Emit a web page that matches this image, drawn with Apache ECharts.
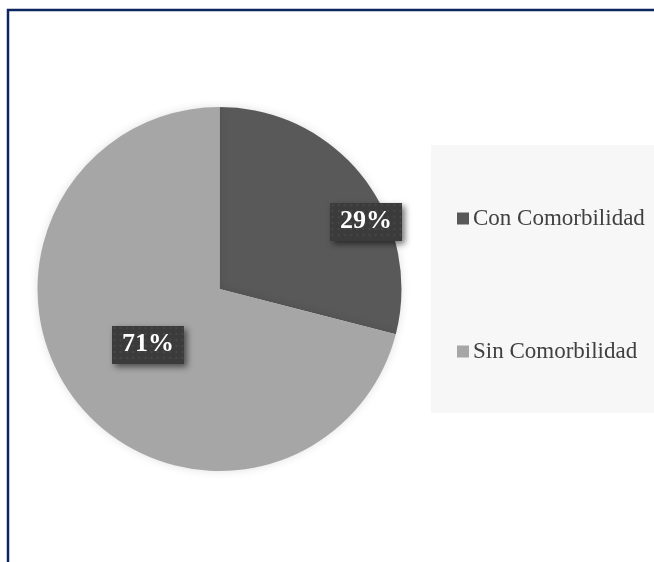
<!DOCTYPE html>
<html>
<head>
<meta charset="utf-8">
<script src="https://cdn.jsdelivr.net/npm/echarts@6/dist/echarts.min.js"></script>
<style>
  html, body { margin: 0; padding: 0; background: #ffffff; }
  #chart { width: 654px; height: 562px; }
</style>
</head>
<body>
<div id="chart"></div>
<script>
// Patients grouped by presence of comorbidity (percent)
const categories = ['Con Comorbilidad', 'Sin Comorbilidad'];
const shares = [29, 71];
const sliceColors = ['#595959', '#a6a6a6'];

// Dotted dark texture used behind the percentage labels
function dottedTile(w, h) {
  const c = document.createElement('canvas');
  c.width = w; c.height = h;
  const g = c.getContext('2d');
  g.fillStyle = '#3b3b3b';
  g.fillRect(0, 0, w, h);
  g.fillStyle = '#4e4e4e';
  for (let y = 2; y < h; y += 6) {
    for (let x = 2; x < w; x += 6) {
      g.beginPath();
      g.arc(x + 0.5, y + 0.5, 1.1, 0, Math.PI * 2);
      g.fill();
    }
  }
  return c;
}
const tile = dottedTile(70, 38);

// Label anchor points (box centres) for each slice
const labelSpots = [[366, 221.5], [148, 344.5]];

const chart = echarts.init(document.getElementById('chart'), null, { renderer: 'canvas' });

chart.setOption({
  animation: false,
  backgroundColor: '#ffffff',
  graphic: [
    {
      type: 'rect',
      shape: { x: 8, y: 10, width: 700, height: 600 },
      style: { fill: 'none', stroke: '#0c2660', lineWidth: 2.5 },
      z: 10
    },
    {
      type: 'rect',
      shape: { x: 431, y: 145, width: 230, height: 268 },
      style: { fill: '#f7f7f7' },
      z: -1
    }
  ],
  legend: {
    orient: 'vertical',
    left: 452,
    top: 202,
    itemWidth: 12,
    itemHeight: 12,
    itemGap: 110,
    icon: 'rect',
    data: categories,
    textStyle: {
      fontFamily: 'Liberation Serif',
      fontSize: 23,
      lineHeight: 23,
      color: '#404040',
      padding: [0, 0, 0, -1]
    }
  },
  series: [
    {
      type: 'pie',
      center: [219.5, 289],
      radius: 182,
      startAngle: 90,
      clockwise: true,
      silent: true,
      itemStyle: {
        borderWidth: 0,
        shadowBlur: 10,
        shadowColor: 'rgba(0,0,0,0.12)'
      },
      label: {
        show: true,
        position: 'inside',
        formatter: (p) => p.value + '%',
        fontFamily: 'Liberation Serif',
        fontWeight: 'bold',
        fontSize: 26,
        color: '#ffffff',
        backgroundColor: { image: tile },
        padding: [7, 10, 5, 10],
        shadowColor: 'rgba(0,0,0,0.55)',
        shadowBlur: 6,
        shadowOffsetX: 3,
        shadowOffsetY: 3
      },
      labelLine: { show: false },
      labelLayout: (params) => ({
        x: labelSpots[params.dataIndex][0],
        y: labelSpots[params.dataIndex][1],
        align: 'center',
        verticalAlign: 'middle'
      }),
      data: categories.map((name, i) => ({
        name: name,
        value: shares[i],
        itemStyle: { color: sliceColors[i] }
      }))
    }
  ]
});
</script>
</body>
</html>
